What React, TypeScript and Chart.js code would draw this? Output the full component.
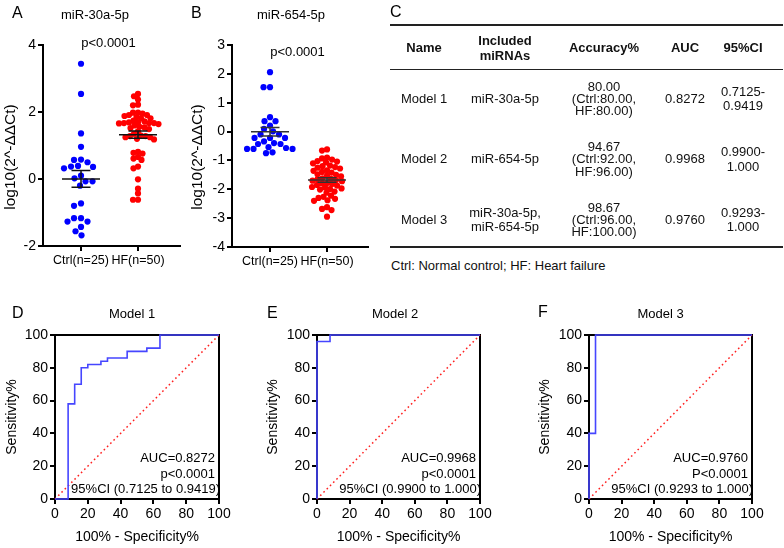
import React, { useEffect, useRef } from 'react';
import { Chart, registerables } from 'chart.js';

Chart.register(...registerables);

const FONT = '"Liberation Sans", Arial, Helvetica, sans-serif';
Chart.defaults.font.family = FONT;
Chart.defaults.color = '#000';

// ---------------- Data ----------------
const groupLabels = ['Ctrl(n=25)', 'HF(n=50)'];
const yTitleScatter = 'log10(2^-ΔΔCt)';

const ctrl30a = [3.44, 2.54, 1.36, 0.96, 0.5, 0.57, 0.58, 0.39, 0.32, 0.36, 0.37, 0.1, 0.02, -0.07, -0.07, -0.2,
  -0.8, -0.73, -1.17, -1.27, -1.27, -1.17, -1.43, -1.56, -1.68];
const hf30a = [2.54, 2.47, 2.37, 2.22, 2.2,
  1.98, 1.98, 1.95, 1.91, 1.91, 1.88, 1.81, 1.81, 1.74,
  1.69, 1.69, 1.67, 1.67, 1.67, 1.64, 1.66,
  1.56, 1.54, 1.52, 1.49,
  1.3, 1.28, 1.28, 1.25, 1.25, 1.2, 1.18,
  0.81, 0.78, 0.76, 0.66, 0.61, 0.57, 0.37, 0.32, -0.01, -0.29, -0.43, -0.62, -0.62,
  1.85, 1.72, 1.6, 1.42, 1.35];

const ctrl654 = [2.06, 1.54, 1.54, 0.5, 0.36, 0.36, 0.21, 0.09, 0.01, -0.1, -0.1, -0.22, -0.22, -0.22, -0.34,
  -0.43, -0.43, -0.4, -0.54, -0.6, -0.6, -0.6, -0.57, -0.72, -0.75];
const hf654 = [-0.62, -0.66,
  -0.9, -0.93, -0.97,
  -1.02, -1.04, -1.07, -1.1,
  -1.18, -1.2, -1.23, -1.25, -1.28,
  -1.34, -1.36, -1.4, -1.42,
  -1.48, -1.5, -1.53, -1.55,
  -1.62, -1.64, -1.66, -1.68, -1.7, -1.72,
  -1.78, -1.8, -1.82, -1.85, -1.87,
  -1.92, -1.94, -1.97, -1.99, -2.01,
  -2.08, -2.12,
  -2.22, -2.26, -2.3, -2.33,
  -2.38, -2.4,
  -2.62, -2.68, -2.72, -2.95];

const pValueText = 'p<0.0001';

// ROC curves: 100% - specificity (x) and sensitivity (y)
const roc1Fpr = [0, 8, 8, 12, 12, 16, 16, 20, 20, 28, 28, 32, 32, 44, 44, 56, 56, 64, 64, 100];
const roc1Tpr = [0, 0, 58, 58, 70, 70, 80, 80, 82, 82, 84, 84, 86, 86, 90, 90, 92, 92, 100, 100];
const roc2Fpr = [0, 0, 8, 8, 100];
const roc2Tpr = [0, 96, 96, 100, 100];
const roc3Fpr = [0, 0, 4, 4, 100];
const roc3Tpr = [0, 40, 40, 100, 100];
const diagX = [0, 100];
const diagY = [0, 100];

// Table
const tableHeader = ['Name', 'Included\nmiRNAs', 'Accuracy%', 'AUC', '95%CI'];
const modelNames = ['Model 1', 'Model 2', 'Model 3'];
const modelMirnas = ['miR-30a-5p', 'miR-654-5p', 'miR-30a-5p,\nmiR-654-5p'];
const accuracyText = ['80.00\n(Ctrl:80.00,\nHF:80.00)', '94.67\n(Ctrl:92.00,\nHF:96.00)', '98.67\n(Ctrl:96.00,\nHF:100.00)'];
const aucValues = ['0.8272', '0.9968', '0.9760'];
const ciLow = ['0.7125', '0.9900', '0.9293'];
const ciHigh = ['0.9419', '1.000', '1.000'];
const rocP = ['p<0.0001', 'p<0.0001', 'P<0.0001'];
const footnote = 'Ctrl: Normal control; HF: Heart failure';

// ---------------- Helpers ----------------
function swarmOffsets(pys: number[], diameter: number): number[] {
  const idx = pys.map((_, i) => i).sort((a, b) => pys[a] - pys[b]);
  const placed: { x: number; y: number }[] = [];
  const out = new Array(pys.length).fill(0);
  for (const i of idx) {
    const y = pys[i];
    let best = 0;
    for (let k = 0; k < 600; k++) {
      const off = (k % 2 === 0 ? 1 : -1) * Math.ceil(k / 2) * 0.5;
      let ok = true;
      for (const p of placed) {
        const dx = p.x - off;
        const dy = p.y - y;
        if (dx * dx + dy * dy < diameter * diameter) { ok = false; break; }
      }
      if (ok) { best = off; break; }
    }
    placed.push({ x: best, y });
    out[i] = best;
  }
  return out;
}

function meanSem(vals: number[]) {
  const n = vals.length;
  const mean = vals.reduce((a, b) => a + b, 0) / n;
  const sd = Math.sqrt(vals.reduce((a, b) => a + (b - mean) ** 2, 0) / (n - 1));
  return { mean, sem: sd / Math.sqrt(n) };
}

const axisGrid = { display: true, drawOnChartArea: false, drawTicks: true, tickLength: 5, color: '#000', lineWidth: 2 };
const axisBorder = { display: true, color: '#000', width: 2 };

interface ScatterOpts {
  groups: number[][];
  colors: string[];
  spacing: number[];
  yMin: number; yMax: number; yStep: number;
  xMin: number; xMax: number;
  yAxisW: number; xAxisH: number; padTop: number; padRight: number;
  title: string; titleDx: number; titleY: number; pDy: number; barColor: string;
  yTitleX: number; yTitleY: number;
}

function buildScatter(canvas: HTMLCanvasElement, o: ScatterOpts) {
  const textPlugin = {
    id: 'scatterText',
    afterDraw(chart: any) {
      const { ctx, chartArea } = chart;
      ctx.save();
      ctx.fillStyle = '#000';
      ctx.textAlign = 'center';
      ctx.textBaseline = 'middle';
      ctx.font = `13px ${FONT}`;
      ctx.fillText(o.title, chart.width / 2 + o.titleDx, o.titleY);
      const px = chart.scales.x.getPixelForValue(1.5);
      ctx.fillText(pValueText, px - 1, chartArea.top + o.pDy);
      // y axis title
      ctx.translate(o.yTitleX, o.yTitleY);
      ctx.rotate(-Math.PI / 2);
      ctx.font = `15.5px ${FONT}`;
      ctx.fillText(yTitleScatter, 0, 0);
      ctx.restore();
    },
  };
  const errPlugin = {
    id: 'meanSem',
    afterDatasetsDraw(chart: any) {
      const xs = chart.scales.x;
      const ys = chart.scales.y;
      const ctx = chart.ctx;
      ctx.save();
      ctx.strokeStyle = o.barColor;
      ctx.lineWidth = 1.5;
      o.groups.forEach((vals, gi) => {
        const { mean, sem } = meanSem(vals);
        const cx = xs.getPixelForValue(gi + 1);
        const ym = ys.getPixelForValue(mean);
        const yt = ys.getPixelForValue(mean + sem);
        const yb = ys.getPixelForValue(mean - sem);
        ctx.beginPath();
        ctx.moveTo(cx - 19, ym); ctx.lineTo(cx + 19, ym);
        ctx.moveTo(cx, yt); ctx.lineTo(cx, yb);
        ctx.moveTo(cx - 9.5, yt); ctx.lineTo(cx + 9.5, yt);
        ctx.moveTo(cx - 9.5, yb); ctx.lineTo(cx + 9.5, yb);
        ctx.stroke();
      });
      ctx.restore();
    },
  };
  const chart = new Chart(canvas, {
    type: 'scatter',
    data: {
      datasets: o.groups.map((vals, gi) => ({
        data: vals.map((v) => ({ x: gi + 1, y: v })),
        backgroundColor: o.colors[gi],
        borderWidth: 0,
        pointRadius: 3.1,
        pointHoverRadius: 3.1,
      })),
    },
    options: {
      animation: false,
      responsive: false,
      devicePixelRatio: 1,
      events: [],
      layout: { padding: { top: o.padTop, right: o.padRight, bottom: 0, left: 0 } },
      plugins: { legend: { display: false }, tooltip: { enabled: false } },
      scales: {
        x: {
          type: 'linear',
          min: o.xMin,
          max: o.xMax,
          afterBuildTicks: (s: any) => { s.ticks = [{ value: 1 }, { value: 2 }]; },
          ticks: {
            callback: (v: any) => groupLabels[Math.round(v) - 1],
            font: { size: 12.5 }, color: '#000', autoSkip: false, maxRotation: 0, padding: 2,
          },
          grid: axisGrid,
          border: axisBorder,
          afterFit: (s: any) => { s.height = o.xAxisH; },
        },
        y: {
          min: o.yMin,
          max: o.yMax,
          ticks: { stepSize: o.yStep, font: { size: 14 }, color: '#000', padding: 2 },
          grid: axisGrid,
          border: axisBorder,
          afterFit: (s: any) => { s.width = o.yAxisW; },
        },
      },
    } as any,
    plugins: [textPlugin, errPlugin],
  });
  // arrange points as a bee swarm using the scales' pixel mapping
  const xs: any = chart.scales.x;
  const ys: any = chart.scales.y;
  const ppu = xs.getPixelForValue(2) - xs.getPixelForValue(1);
  chart.data.datasets.forEach((ds: any, gi: number) => {
    const vals = o.groups[gi];
    const offs = swarmOffsets(vals.map((v) => ys.getPixelForValue(v)), o.spacing[gi]);
    ds.data = vals.map((v, i) => ({ x: gi + 1 + offs[i] / ppu, y: v }));
  });
  chart.update('none');
  return chart;
}

interface RocOpts {
  fpr: number[]; tpr: number[];
  yAxisW: number; padRight: number;
  title: string; titleDx: number;
  auc: string; p: string; ci: string;
}

function buildRoc(canvas: HTMLCanvasElement, o: RocOpts) {
  const framePlugin = {
    id: 'frame',
    beforeDatasetsDraw(chart: any) {
      const { ctx, chartArea: a } = chart;
      ctx.save();
      ctx.strokeStyle = '#000';
      ctx.lineWidth = 2;
      ctx.strokeRect(a.left, a.top, a.right - a.left, a.bottom - a.top);
      ctx.restore();
    },
    afterDraw(chart: any) {
      const { ctx, chartArea: a } = chart;
      ctx.save();
      ctx.fillStyle = '#000';
      ctx.font = `13px ${FONT}`;
      ctx.textBaseline = 'middle';
      ctx.textAlign = 'center';
      ctx.fillText(o.title, chart.width / 2 + o.titleDx, 24);
      ctx.textAlign = 'right';
      ctx.fillText(o.auc, a.right - 4, a.bottom - 41);
      ctx.fillText(o.p, a.right - 4, a.bottom - 25);
      ctx.fillText(o.ci, a.right + 1, a.bottom - 10);
      ctx.restore();
    },
  };
  return new Chart(canvas, {
    type: 'line',
    data: {
      datasets: [
        {
          data: o.fpr.map((x, i) => ({ x, y: o.tpr[i] })),
          borderColor: '#4646ff',
          borderWidth: 1.6,
          pointRadius: 0,
          fill: false,
          tension: 0,
          clip: 4,
        },
        {
          data: diagX.map((x, i) => ({ x, y: diagY[i] })),
          borderColor: '#ff2020',
          borderWidth: 1.5,
          borderDash: [1.6, 3],
          pointRadius: 0,
          fill: false,
          tension: 0,
          clip: 4,
        },
      ],
    },
    options: {
      animation: false,
      responsive: false,
      devicePixelRatio: 1,
      events: [],
      layout: { padding: { top: 45, right: o.padRight, bottom: 0, left: 0 } },
      plugins: { legend: { display: false }, tooltip: { enabled: false } },
      scales: {
        x: {
          type: 'linear', min: 0, max: 100,
          ticks: { stepSize: 20, font: { size: 14 }, color: '#000', padding: 2, maxRotation: 0, autoSkip: false },
          grid: axisGrid,
          border: axisBorder,
          title: { display: true, text: '100% - Specificity%', font: { size: 14 }, color: '#000', padding: { top: 2, bottom: 2 } },
          afterFit: (s: any) => { s.height = 49; },
        },
        y: {
          type: 'linear', min: 0, max: 100,
          ticks: { stepSize: 20, font: { size: 14 }, color: '#000', padding: 2 },
          grid: axisGrid,
          border: axisBorder,
          title: { display: true, text: 'Sensitivity%', font: { size: 14 }, color: '#000', padding: { top: 4, bottom: 0 } },
          afterFit: (s: any) => { s.width = o.yAxisW; },
        },
      },
    } as any,
    plugins: [framePlugin],
  });
}

function ChartCanvas(props: { left: number; top: number; width: number; height: number; build: (c: HTMLCanvasElement) => Chart }) {
  const ref = useRef<HTMLCanvasElement>(null);
  useEffect(() => {
    const chart = props.build(ref.current as HTMLCanvasElement);
    return () => chart.destroy();
  }, []);
  return (
    <canvas
      ref={ref}
      width={props.width}
      height={props.height}
      style={{ position: 'absolute', left: props.left, top: props.top, width: props.width, height: props.height }}
    />
  );
}

function Letter(props: { x: number; y: number; t: string }) {
  return (
    <div style={{ position: 'absolute', left: props.x, top: props.y - 9, fontSize: 16, lineHeight: '18px', fontFamily: FONT, color: '#000' }}>
      {props.t}
    </div>
  );
}

function Cell(props: { cx: number; cy: number; text: string; bold?: boolean; lh: number }) {
  const lines = props.text.split('\n').length;
  return (
    <div
      style={{
        position: 'absolute', left: props.cx - 70, width: 140, top: props.cy - (lines * props.lh) / 2,
        lineHeight: props.lh + 'px', textAlign: 'center', whiteSpace: 'pre', fontWeight: props.bold ? 'bold' : 'normal',
        fontSize: 13, fontFamily: FONT, color: '#111',
      }}
    >
      {props.text}
    </div>
  );
}

function Table() {
  const colX = [424, 505, 604, 685, 743];
  const rowY = [99, 159.5, 220];
  const lhFor = (t: string) => (t.split('\n').length >= 3 ? 12.3 : 14.5);
  return (
    <>
      <div style={{ position: 'absolute', left: 390, top: 24, width: 393, height: 2, background: '#222' }} />
      <div style={{ position: 'absolute', left: 390, top: 68.5, width: 393, height: 1.2, background: '#222' }} />
      <div style={{ position: 'absolute', left: 390, top: 246, width: 393, height: 2, background: '#222' }} />
      {tableHeader.map((h, i) => (
        <Cell key={'h' + i} cx={colX[i]} cy={47.5} text={h} bold lh={15} />
      ))}
      {modelNames.map((n, r) => (
        <React.Fragment key={'r' + r}>
          <Cell cx={colX[0]} cy={rowY[r]} text={n} lh={14.5} />
          <Cell cx={colX[1]} cy={rowY[r]} text={modelMirnas[r]} lh={lhFor(modelMirnas[r])} />
          <Cell cx={colX[2]} cy={rowY[r]} text={accuracyText[r]} lh={lhFor(accuracyText[r])} />
          <Cell cx={colX[3]} cy={rowY[r]} text={aucValues[r]} lh={14.5} />
          <Cell cx={colX[4]} cy={rowY[r]} text={`${ciLow[r]}-\n${ciHigh[r]}`} lh={14.5} />
        </React.Fragment>
      ))}
      <div style={{ position: 'absolute', left: 391, top: 258, fontSize: 13, lineHeight: '16px', fontFamily: FONT, color: '#111', whiteSpace: 'pre' }}>
        {footnote}
      </div>
    </>
  );
}

export default function App() {
  const rocF = [roc1Fpr, roc2Fpr, roc3Fpr];
  const rocT = [roc1Tpr, roc2Tpr, roc3Tpr];
  return (
    <div style={{ position: 'fixed', left: 0, top: 0, width: 784, height: 548, background: '#fff', overflow: 'hidden', fontFamily: FONT }}>
      <ChartCanvas
        left={0} top={0} width={190} height={280}
        build={(c) => buildScatter(c, {
          groups: [ctrl30a, hf30a], colors: ['#0000ff', '#ff0000'], spacing: [7, 4.6],
          yMin: -2, yMax: 4, yStep: 2, xMin: 0.333, xMax: 2.737,
          yAxisW: 43, xAxisH: 34, padTop: 45, padRight: 10,
          title: 'miR-30a-5p', titleDx: 0, titleY: 15, pDy: -2, barColor: '#111',
          yTitleX: 11, yTitleY: 157,
        })}
      />
      <ChartCanvas
        left={188} top={0} width={200} height={280}
        build={(c) => buildScatter(c, {
          groups: [ctrl654, hf654], colors: ['#0000ff', '#ff0000'], spacing: [6.5, 5],
          yMin: -4, yMax: 3, yStep: 1, xMin: 0.333, xMax: 2.719,
          yAxisW: 44, xAxisH: 33, padTop: 45, padRight: 20,
          title: 'miR-654-5p', titleDx: 3, titleY: 15, pDy: 7, barColor: '#333',
          yTitleX: 10, yTitleY: 157,
        })}
      />
      {[0, 1, 2].map((k) => (
        <ChartCanvas
          key={'roc' + k}
          left={[0, 261, 533][k]} top={290} width={[260, 260, 251][k]} height={258}
          build={(c) => buildRoc(c, {
            fpr: rocF[k], tpr: rocT[k],
            yAxisW: [55, 56, 56][k], padRight: [41, 41, 32][k],
            title: modelNames[k], titleDx: [2, 4, 2][k],
            auc: `AUC=${aucValues[k]}`, p: rocP[k], ci: `95%CI (${ciLow[k]} to ${ciHigh[k]})`,
          })}
        />
      ))}
      <Table />
      <Letter x={12} y={13} t="A" />
      <Letter x={191} y={13} t="B" />
      <Letter x={390} y={12} t="C" />
      <Letter x={12} y={313} t="D" />
      <Letter x={267} y={313} t="E" />
      <Letter x={538} y={312} t="F" />
    </div>
  );
}
